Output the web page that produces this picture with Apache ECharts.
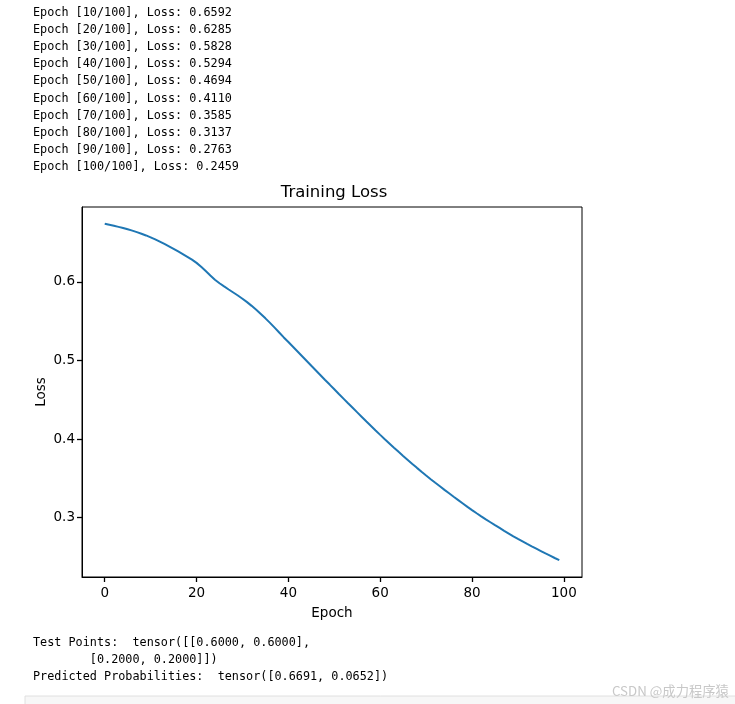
<!DOCTYPE html>
<html>
<head>
<meta charset="utf-8">
<script src="https://cdn.jsdelivr.net/npm/echarts@6/dist/echarts.min.js"></script>
<style>
html,body{margin:0;padding:0;background:#fff;}
#chart{width:735px;height:704px;}
</style>
</head>
<body>
<div id="chart"></div>
<script>
// ---- data ----
const epochs = Array.from({length: 100}, (_, i) => i);
const lossValues = [
  0.6740, 0.6728, 0.6715, 0.6701, 0.6686, 0.6670, 0.6653, 0.6634, 0.6614, 0.6592,
  0.6568, 0.6542, 0.6514, 0.6485, 0.6454, 0.6422, 0.6389, 0.6355, 0.6320, 0.6285,
  0.6243, 0.6193, 0.6139, 0.6083, 0.6028, 0.5983, 0.5943, 0.5904, 0.5866, 0.5828,
  0.5787, 0.5743, 0.5696, 0.5646, 0.5593, 0.5537, 0.5479, 0.5419, 0.5357, 0.5294,
  0.5235, 0.5175, 0.5115, 0.5055, 0.4994, 0.4933, 0.4873, 0.4813, 0.4753, 0.4694,
  0.4634, 0.4574, 0.4515, 0.4456, 0.4398, 0.4340, 0.4282, 0.4224, 0.4167, 0.4110,
  0.4054, 0.3999, 0.3945, 0.3891, 0.3838, 0.3786, 0.3735, 0.3684, 0.3634, 0.3585,
  0.3537, 0.3490, 0.3444, 0.3399, 0.3354, 0.3310, 0.3266, 0.3223, 0.3180, 0.3137,
  0.3096, 0.3056, 0.3017, 0.2979, 0.2942, 0.2905, 0.2869, 0.2833, 0.2798, 0.2763,
  0.2730, 0.2698, 0.2666, 0.2635, 0.2605, 0.2575, 0.2545, 0.2516, 0.2487, 0.2459
];
const xTicks = [0, 20, 40, 60, 80, 100];
const yTicks = [0.3, 0.4, 0.5, 0.6];
const logLines = [
  "Epoch [10/100], Loss: 0.6592",
  "Epoch [20/100], Loss: 0.6285",
  "Epoch [30/100], Loss: 0.5828",
  "Epoch [40/100], Loss: 0.5294",
  "Epoch [50/100], Loss: 0.4694",
  "Epoch [60/100], Loss: 0.4110",
  "Epoch [70/100], Loss: 0.3585",
  "Epoch [80/100], Loss: 0.3137",
  "Epoch [90/100], Loss: 0.2763",
  "Epoch [100/100], Loss: 0.2459"
];
const outputLines = [
  "Test Points:  tensor([[0.6000, 0.6000],",
  "        [0.2000, 0.2000]])",
  "Predicted Probabilities:  tensor([0.6691, 0.0652])"
];
const titleText = "Training Loss";
const xName = "Epoch";
const yName = "Loss";
const watermark = "CSDN @成力程序猿";

// ---- chart ----
const xMin = -4.95, xMax = 103.95;
const yLo = Math.min(...lossValues), yHi = Math.max(...lossValues);
const yPad = (yHi - yLo) * 0.05;

const mono = "'DejaVu Sans Mono', monospace";
const sans = "'DejaVu Sans', sans-serif";

const graphics = [];
logLines.forEach((t, i) => {
  graphics.push({type: 'text', left: 33, top: 7 + i * 17.1,
    style: {text: t, font: "11.8px " + mono, fill: '#000'}});
});
outputLines.forEach((t, i) => {
  graphics.push({type: 'text', left: 33, top: 637 + i * 17,
    style: {text: t, font: "11.8px " + mono, fill: '#000'}});
});
graphics.push({type: 'rect', shape: {x: 25, y: 696, width: 720, height: 20},
  style: {fill: '#f7f7f7', stroke: '#e0e0e0', lineWidth: 1}, z: 1});
graphics.push({type: 'text', left: 612, top: 684,
  style: {text: watermark, font: "13.3px 'Noto Sans CJK SC', sans-serif", fill: '#c8c8c8'}, z: 2});
graphics.push({type: 'text', x: 334, y: 184,
  style: {text: titleText, font: "16.5px " + sans, fill: '#000', align: 'center', verticalAlign: 'top'}});

const chart = echarts.init(document.getElementById('chart'), null, {renderer: 'canvas'});
chart.setOption({
  animation: false,
  backgroundColor: '#fff',
  grid: {left: 82, top: 207, width: 500, height: 370, show: true,
    borderColor: '#000', borderWidth: 1, backgroundColor: 'transparent'},
  xAxis: {
    type: 'value', min: xMin, max: xMax,
    name: xName, nameLocation: 'middle', nameGap: 29, nameMoveOverlap: false,
    nameTextStyle: {fontFamily: sans, fontSize: 13.5, color: '#000'},
    axisLine: {show: true, onZero: false, lineStyle: {color: '#000', width: 1}},
    axisTick: {show: true, inside: false, length: 5, customValues: xTicks,
      lineStyle: {color: '#000', width: 1.3}},
    axisLabel: {show: true, customValues: xTicks, margin: 9, fontFamily: sans, fontSize: 13.5, color: '#000'},
    splitLine: {show: false}
  },
  yAxis: {
    type: 'value', min: yLo - yPad, max: yHi + yPad,
    name: yName, nameLocation: 'middle', nameGap: 34, nameRotate: 90, nameMoveOverlap: false,
    nameTextStyle: {fontFamily: sans, fontSize: 13.5, color: '#000'},
    axisLine: {show: true, onZero: false, lineStyle: {color: '#000', width: 1}},
    axisTick: {show: true, inside: false, length: 5, customValues: yTicks,
      lineStyle: {color: '#000', width: 1.3}},
    axisLabel: {customValues: yTicks, margin: 7, fontFamily: sans, fontSize: 13.5, color: '#000',
      formatter: v => v.toFixed(1)},
    splitLine: {show: false}
  },
  series: [{
    type: 'line', data: epochs.map((e, i) => [e, lossValues[i]]),
    showSymbol: false, smooth: false,
    lineStyle: {color: '#1f77b4', width: 2}
  }],
  graphic: graphics
});
</script>
</body>
</html>
